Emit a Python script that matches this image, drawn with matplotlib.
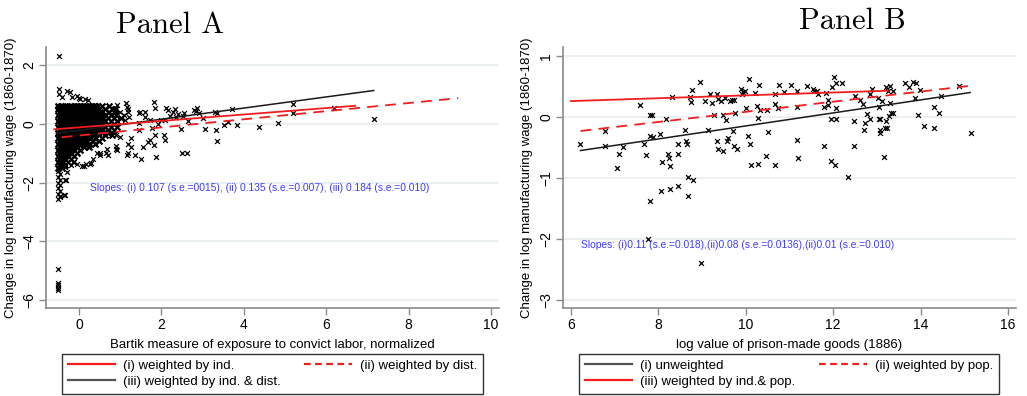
import numpy as np
import matplotlib
matplotlib.use("Agg")
import matplotlib.pyplot as plt
from matplotlib.lines import Line2D

plt.rcParams['font.family'] = ['Liberation Sans', 'DejaVu Sans']

# ---------------- Panel A data ----------------
# dense core of counties near zero exposure, one list of x per row of y
coreA_y = [0.6, 0.5, 0.4, 0.3, 0.2, 0.1, 0.0, -0.1, -0.2, -0.3, -0.4,
           -0.5, -0.6, -0.7, -0.8, -0.9, -1.0, -1.1, -1.2, -1.3, -1.4, -1.5]
coreA_x = [
    [-0.50, -0.43, -0.35, -0.28, -0.20, -0.13, -0.05, 0.02, 0.10, 0.17, 0.25, 0.32, 0.40, 0.55, 0.72],
    [-0.50, -0.42, -0.34, -0.27, -0.19, -0.12, -0.04, 0.03, 0.11, 0.18, 0.26, 0.33, 0.41, 0.48, 0.64, 0.79, 0.88],
    [-0.49, -0.41, -0.33, -0.26, -0.18, -0.11, -0.03, 0.04, 0.12, 0.19, 0.27, 0.35, 0.42, 0.50, 0.57, 0.72, 0.87],
    [-0.50, -0.43, -0.35, -0.28, -0.20, -0.12, -0.05, 0.03, 0.10, 0.18, 0.25, 0.33, 0.40, 0.48, 0.55, 0.63, 0.78, 0.91],
    [-0.49, -0.42, -0.34, -0.26, -0.19, -0.11, -0.04, 0.04, 0.11, 0.19, 0.26, 0.34, 0.41, 0.49, 0.56, 0.71, 0.86, 1.02],
    [-0.50, -0.43, -0.35, -0.27, -0.20, -0.12, -0.05, 0.03, 0.10, 0.18, 0.25, 0.33, 0.40, 0.48, 0.55, 0.63, 0.78, 0.93],
    [-0.49, -0.42, -0.34, -0.26, -0.19, -0.11, -0.04, 0.04, 0.11, 0.19, 0.26, 0.34, 0.41, 0.49, 0.56, 0.71, 0.86],
    [-0.50, -0.43, -0.35, -0.27, -0.20, -0.12, -0.05, 0.03, 0.10, 0.18, 0.25, 0.33, 0.40, 0.48, 0.63, 0.78, 0.93],
    [-0.49, -0.42, -0.34, -0.26, -0.19, -0.11, -0.04, 0.04, 0.11, 0.19, 0.26, 0.34, 0.41, 0.49, 0.56, 0.71, 0.86],
    [-0.50, -0.43, -0.35, -0.27, -0.20, -0.12, -0.05, 0.03, 0.10, 0.18, 0.25, 0.33, 0.40, 0.55, 0.70],
    [-0.49, -0.42, -0.34, -0.26, -0.19, -0.11, -0.04, 0.04, 0.11, 0.19, 0.26, 0.34, 0.49, 0.64, 0.79],
    [-0.50, -0.43, -0.35, -0.27, -0.20, -0.12, -0.05, 0.03, 0.10, 0.18, 0.25, 0.40, 0.55],
    [-0.49, -0.42, -0.34, -0.26, -0.19, -0.11, -0.04, 0.04, 0.11, 0.19, 0.34, 0.49],
    [-0.50, -0.43, -0.35, -0.27, -0.20, -0.12, -0.05, 0.03, 0.10, 0.25, 0.40],
    [-0.49, -0.42, -0.34, -0.26, -0.19, -0.11, -0.04, 0.11, 0.25],
    [-0.50, -0.43, -0.35, -0.27, -0.20, -0.12, 0.03],
    [-0.49, -0.42, -0.34, -0.26, -0.19, -0.04],
    [-0.50, -0.43, -0.35, -0.27, -0.12],
    [-0.49, -0.42, -0.34, -0.20],
    [-0.50, -0.43, -0.27],
    [-0.49, -0.42, -0.35],
    [-0.50, -0.42],
]

# the long column of counties at the minimum exposure value
stackA_x = [-0.50, -0.47, -0.50, -0.47, -0.50, -0.47, -0.50, -0.47, -0.50, -0.47,
            -0.50, -0.47, -0.49, -0.50, -0.50, -0.50, -0.50, -0.50]
stackA_y = [-1.6, -1.7, -1.8, -1.9, -2.0, -2.1, -2.2, -2.3, -2.4, -2.5,
            -2.55, -2.45, 2.32, -4.94, -5.41, -5.50, -5.58, -5.65]

# scattered counties around the core and to the right
sparseA_x = [-0.49, -0.49, -0.42, -0.30, -0.23, -0.18, -0.06, 0.01, 0.15, 0.23, 0.02, 0.47,
             0.93, 1.20, 0.91, 0.99, 1.08, 1.12, 0.91, 0.99, 1.20, 0.91, 0.67, 0.71,
             0.43, 0.51, 0.35, 0.27, 0.11, -0.06, -0.14, -0.34, -0.30, -0.32, -0.34,
             -0.36, -0.33, -0.19, -0.11, 0.08, 0.16, 0.30, 0.50, 0.66, 0.91, 0.92,
             1.15, 1.17, 1.19, 1.21, 1.25, 1.27, 1.17, 1.19, 1.35, 1.45, 1.45, 1.45,
             1.47, 1.51, 1.55, 1.60, 1.61, 1.68, 1.72, 1.72, 1.76, 1.81, 1.82, 1.84,
             1.85, 1.88, 1.92, 2.00, 2.06, 2.08, 2.08, 2.12, 2.16, 2.20, 2.28, 2.32,
             2.36, 2.40, 2.47, 2.49, 2.53, 2.55, 2.61, 2.65, 2.79, 2.83, 2.87, 2.91,
             3.01, 3.05, 3.30, 3.32, 3.35, 3.36, 3.52, 3.62, 3.72, 3.84, 4.37, 4.82,
             5.20, 5.20, 6.19, 7.16]
sparseA_y = [1.19, 1.02, 0.91, 1.13, 1.07, 0.91, 0.96, 0.87, 0.85, 0.79, 0.83, 0.62,
             0.62, 0.51, 0.51, 0.39, 0.28, 0.11, -0.40, -0.45, -0.68, -0.85, -0.85, -1.08,
             -0.99, -1.08, -1.19, -1.36, -1.45, -1.36, -1.30, -1.47, -1.65, -1.93, -2.44,
             -2.43, -1.92, -1.40, -1.29, -1.44, -1.37, -1.35, -1.01, -1.01, -0.76, -0.89,
             0.70, 0.58, 0.41, 0.24, -0.50, -0.78, -1.06, -1.01, -1.06, 0.01, -0.21, 0.35,
             0.41, -1.20, -0.78, 0.24, 0.41, -0.61, -0.55, 0.13, -0.16, -0.72, 0.73, 0.52,
             -0.38, -1.12, -0.02, 0.13, -0.38, -0.55, 0.13, 0.52, 0.47, 0.26, 0.41, 0.50,
             0.24, 0.33, -0.19, -0.98, 0.26, 0.35, -0.98, 0.09, 0.47, 0.43, 0.55, 0.35,
             0.18, -0.18, 0.41, -0.21, 0.38, -0.59, -0.04, 0.07, 0.50, -0.04, -0.10, 0.04,
             0.67, 0.35, 0.52, 0.16]

# fitted lines: (i) weighted by ind., (ii) by dist., (iii) by ind. & dist.
fitA_i_x, fitA_i_y = [-0.60, 6.70], [-0.19, 0.61]
fitA_ii_x, fitA_ii_y = [-0.42, 9.20], [-0.46, 0.87]
fitA_iii_x, fitA_iii_y = [-0.55, 7.15], [-0.33, 1.13]

# ---------------- Panel B data ----------------
prison_x = [6.22, 6.79, 6.79, 7.05, 7.11, 7.20, 7.58, 7.68, 7.71, 7.81, 7.81, 7.86, 7.87, 7.81,
            7.77, 8.04, 8.08, 8.05, 8.18, 8.21, 8.25, 8.26, 8.26, 8.31, 8.44, 8.45, 8.44,
            8.60, 8.63, 8.65, 8.67, 8.69, 8.73, 8.75, 8.76, 8.80, 8.95, 8.98, 9.07, 9.13,
            9.18, 9.22, 9.28, 9.34, 9.35, 9.36, 9.37, 9.43, 9.47, 9.49, 9.53, 9.55, 9.58,
            9.60, 9.64, 9.68, 9.70, 9.73, 9.74, 9.76, 9.79, 9.89, 9.92, 9.93, 9.98, 10.00,
            10.04, 10.08, 10.10, 10.11, 10.21, 10.25, 10.27, 10.27, 10.31, 10.33, 10.46,
            10.49, 10.50, 10.66, 10.66, 10.66, 10.73, 10.76, 10.88, 11.03, 11.18, 11.18,
            11.18, 11.20, 11.41, 11.53, 11.56, 11.63, 11.66, 11.78, 11.80, 11.83, 11.87,
            11.89, 11.95, 11.95, 11.98, 12.02, 12.03, 12.06, 12.06, 12.06, 12.20, 12.33,
            12.47, 12.47, 12.49, 12.62, 12.69, 12.71, 12.72, 12.77, 12.83, 12.85, 12.89,
            13.02, 13.04, 13.05, 13.06, 13.07, 13.08, 13.11, 13.15, 13.18, 13.21, 13.21,
            13.23, 13.25, 13.27, 13.29, 13.30, 13.33, 13.37, 13.37, 13.65, 13.73, 13.82,
            13.88, 13.90, 13.94, 13.98, 14.08, 14.30, 14.31, 14.41, 14.47, 14.87, 15.14]
wage_y = [-0.45, -0.23, -0.47, -0.83, -0.61, -0.49, 0.19, -0.44, -0.62, -0.32, 0.04, 0.04, -0.33, -1.38,
          -2.00, -0.28, -0.73, -1.21, -0.04, -0.61, -0.68, -0.81, -1.18, 0.32, -0.45, -0.61, -1.13,
          -0.21, -0.40, -0.45, -1.30, -0.99, 0.32, 0.25, 0.44, -1.03, 0.57, -2.40, 0.26, -0.22,
          0.37, 0.23, 0.03, -0.39, 0.37, 0.29, -0.52, 0.26, 0.04, -0.56, 0.31, -0.05, -0.40,
          -0.34, 0.26, 0.27, -0.23, -0.48, 0.27, 0.07, -0.53, 0.45, 0.37, 0.41, 0.43, 0.15,
          -0.31, 0.62, -0.45, -0.79, 0.39, 0.18, -0.01, -0.77, 0.53, 0.12, -0.64,
          0.12, -0.25, 0.37, 0.21, -0.79, 0.15, 0.53, 0.41, 0.53, 0.43, 0.17,
          -0.37, -0.67, 0.50, 0.45, 0.42, 0.43, 0.37, -0.48, 0.16, 0.40, 0.20,
          0.28, -0.03, -0.72, 0.49, 0.65, -0.78, 0.15, 0.56, -0.04, 0.55, -0.98,
          -0.07, -0.48, 0.35, 0.27, 0.22, -0.21, -0.10, 0.05, -0.03, 0.37, 0.46,
          0.31, 0.17, -0.04, -0.26, -0.22, -0.04, 0.26, -0.65, -0.18, 0.49, -0.07,
          -0.18, 0.42, 0.01, 0.23, 0.51, 0.07, 0.42, 0.07, 0.56, 0.49, 0.58,
          0.31, 0.56, 0.04, 0.44, -0.15, 0.16, -0.18, 0.07, 0.35, 0.51, -0.26]

# fitted lines: (i) unweighted, (ii) by pop., (iii) by ind. & pop.
fitB_i_x, fitB_i_y = [6.22, 15.13], [-0.55, 0.40]
fitB_ii_x, fitB_ii_y = [6.22, 15.13], [-0.23, 0.51]
fitB_iii_x, fitB_iii_y = [6.00, 13.25], [0.26, 0.43]

RED = '#f01e1e'
DARK = '#1a1a1a'
BLUE = '#3c3cff'
GRID = '#e6eef0'
SPINE = '#8a8a8a'
MK = dict(marker='x', s=12, lw=0.9, color='black', zorder=2)


def style_axes(ax, xticks, yticks):
    for s in ['top', 'right']:
        ax.spines[s].set_visible(False)
    for s in ['left', 'bottom']:
        ax.spines[s].set_color(SPINE)
        ax.spines[s].set_linewidth(1.2)
    ax.set_xticks(xticks)
    ax.set_yticks(yticks)
    ax.tick_params(length=5, width=1, color=SPINE, labelsize=10, pad=2)
    ax.tick_params(axis='y', labelrotation=90)
    for t in ax.get_yticklabels():
        t.set_va('center')
    ax.grid(axis='y', color=GRID, lw=1.1)
    ax.set_axisbelow(True)


fig = plt.figure(figsize=(10.27, 3.96), dpi=100)

# Panel A
axA = fig.add_axes([0.0448, 0.2222, 0.4411, 0.6591])
for yy, xs in zip(coreA_y, coreA_x):
    # overlapping markers in the crowded core
    axA.scatter(xs, [yy] * len(xs), marker='x', s=18, lw=1.6, color='black', zorder=2)
axA.scatter(stackA_x, stackA_y, **MK)
axA.scatter(sparseA_x, sparseA_y, **MK)
lA1, = axA.plot(fitA_i_x, fitA_i_y, color=RED, lw=1.3, zorder=4)
lA2, = axA.plot(fitA_ii_x, fitA_ii_y, color=RED, lw=1.3, ls=(0, (6, 4)), zorder=4)
lA3, = axA.plot(fitA_iii_x, fitA_iii_y, color=DARK, lw=1.1, zorder=3)
axA.set_xlim(-0.8, 10.19)
axA.set_ylim(-6.27, 2.61)
style_axes(axA, [0, 2, 4, 6, 8, 10], [-6, -4, -2, 0, 2])
axA.set_xlabel('Bartik measure of exposure to convict labor, normalized', fontsize=9.5)
axA.set_ylabel('Change in log manufacturing wage (1860-1870)', fontsize=9.5)
axA.xaxis.set_label_coords(0.5, -0.117)
axA.yaxis.set_label_coords(-0.064, 0.5)
axA.text(0.27, -2.2, 'Slopes: (i) 0.107 (s.e.=0015), (ii) 0.135 (s.e.=0.007), (iii) 0.184 (s.e.=0.010)',
         color=BLUE, fontsize=7.4, va='center')
axA.legend([Line2D([], [], color=RED, lw=1.6), Line2D([], [], color=DARK, lw=1.6, alpha=0.75),
            Line2D([], [], color=RED, lw=1.6, ls=(0, (3, 2)))],
           ['(i) weighted by ind.', '(iii) weighted by ind. & dist.', '(ii) weighted by dist.'],
           ncol=2, loc='lower left', bbox_to_anchor=(0.0604, 0.005, 0.41, 0.106),
           bbox_transform=fig.transFigure, mode='expand', borderaxespad=0, fancybox=False,
           edgecolor='#333333', framealpha=1, fontsize=9.5, handlelength=3.6,
           handletextpad=0.6, labelspacing=0.3, borderpad=0.45)
fig.text(0.1655, 0.937, 'Panel A', family='cmr10', fontsize=22, ha='center', va='center')

# Panel B
axB = fig.add_axes([0.5482, 0.2222, 0.4411, 0.6591])
axB.scatter(prison_x, wage_y, **MK)
lB1, = axB.plot(fitB_i_x, fitB_i_y, color=DARK, lw=1.1, zorder=3)
lB2, = axB.plot(fitB_ii_x, fitB_ii_y, color=RED, lw=1.3, ls=(0, (6, 4)), zorder=4)
lB3, = axB.plot(fitB_iii_x, fitB_iii_y, color=RED, lw=1.3, zorder=4)
axB.set_xlim(5.82, 16.18)
axB.set_ylim(-3.13, 1.146)
style_axes(axB, [6, 8, 10, 12, 14, 16], [-3, -2, -1, 0, 1])
axB.set_xlabel('log value of prison-made goods (1886)', fontsize=9.5)
axB.set_ylabel('Change in log manufacturing wage (1860-1870)', fontsize=9.5)
axB.xaxis.set_label_coords(0.5, -0.117)
axB.yaxis.set_label_coords(-0.066, 0.5)
axB.text(6.23, -2.09, 'Slopes: (i)0.11 (s.e.=0.018),(ii)0.08 (s.e.=0.0136),(ii)0.01 (s.e.=0.010)',
         color=BLUE, fontsize=7.4, va='center')
axB.legend([Line2D([], [], color=DARK, lw=1.6, alpha=0.75), Line2D([], [], color=RED, lw=1.6),
            Line2D([], [], color=RED, lw=1.6, ls=(0, (3, 2)))],
           ['(i) unweighted', '(iii) weighted by ind.& pop.', '(ii) weighted by pop.'],
           ncol=2, loc='lower left', bbox_to_anchor=(0.5638, 0.005, 0.409, 0.106),
           bbox_transform=fig.transFigure, mode='expand', borderaxespad=0, fancybox=False,
           edgecolor='#333333', framealpha=1, fontsize=9.5, handlelength=3.6,
           handletextpad=0.6, labelspacing=0.3, borderpad=0.45)
fig.text(0.8296, 0.947, 'Panel B', family='cmr10', fontsize=22, ha='center', va='center')

fig.savefig('out.png', dpi=100)
